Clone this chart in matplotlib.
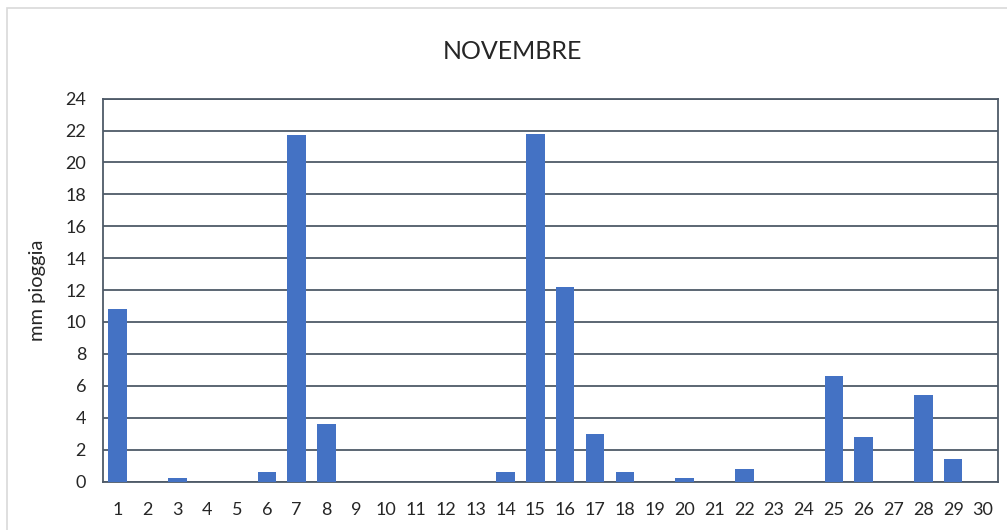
import numpy as np
import matplotlib.pyplot as plt
from matplotlib.patches import Rectangle

# ---------------------------
# Data: rainfall for each day of November (mm)
# ---------------------------
days = [str(d) for d in range(1, 31)]
rain_mm = [10.8, 0, 0.2, 0, 0, 0.6, 21.7, 3.6, 0, 0,
           0, 0, 0, 0.6, 21.8, 12.2, 3.0, 0.6, 0, 0.2,
           0, 0.8, 0, 0, 6.6, 2.8, 0, 5.4, 1.4, 0]
y_ticks = list(range(0, 25, 2))

plt.rcParams['font.family'] = ['Lato', 'DejaVu Sans']

fig = plt.figure(figsize=(10.07, 5.30), dpi=100)
ax = fig.add_axes([0.102, 0.0915, 0.889, 0.7223])

# light grey chart frame like the spreadsheet chart area
fig.patches.append(Rectangle((7 / 1007, -0.1), 1.2, (530 - 8) / 530 + 0.1,
                             transform=fig.transFigure, fill=False,
                             edgecolor='#d9d9d9', linewidth=1.2))

x = np.arange(len(days))
ax.bar(x, rain_mm, width=0.62, color='#4472C4', zorder=3)

ax.set_xlim(-0.5, len(days) - 0.5)
ax.set_ylim(0, 24)
ax.set_yticks(y_ticks)
ax.set_xticks(x)
ax.set_xticklabels(days)

grid_col = '#4e5a68'
ax.grid(axis='y', color=grid_col, linewidth=1.3, zorder=0)
for s in ax.spines.values():
    s.set_color(grid_col)
    s.set_linewidth(1.3)
ax.tick_params(axis='both', length=0, labelsize=13, colors='#262626')
ax.tick_params(axis='x', pad=15)
ax.tick_params(axis='y', pad=12)

ax.set_ylabel('mm pioggia', fontsize=14.5, color='#262626', labelpad=14)
fig.text(0.509, 0.903, 'NOVEMBRE', ha='center', va='center',
         fontsize=18, color='#262626')

plt.savefig('out.png', dpi=100)
